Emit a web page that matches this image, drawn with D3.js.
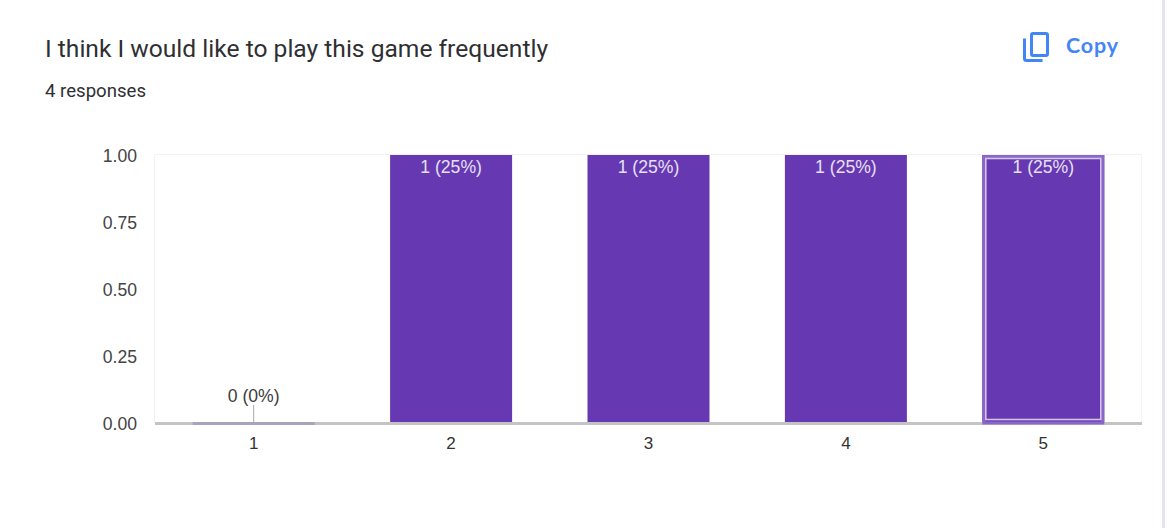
<!DOCTYPE html>
<html><head><meta charset="utf-8">
<script src="https://cdn.jsdelivr.net/npm/d3@7"></script>
<style>html,body{margin:0;padding:0;background:#fff;overflow:hidden}svg{display:block}</style>
</head><body><div id="c"></div>
<script>
const title = "I think I would like to play this game frequently";
const subtitle = "4 responses";
const categories = ["1","2","3","4","5"];
const counts = [0,1,1,1,1];
const labels = ["0 (0%)","1 (25%)","1 (25%)","1 (25%)","1 (25%)"];
const yTicks = [0,0.25,0.5,0.75,1];
const copyLabel = "Copy";

const W=1173,H=531;
const svg=d3.select("#c").append("svg").attr("width",W).attr("height",H).style("font-family","'Liberation Sans', Arial, sans-serif");
svg.append("rect").attr("width",W).attr("height",H).attr("fill","#fff");
svg.append("rect").attr("x",1162).attr("y",0).attr("width",3).attr("height",H-3).attr("fill","#e6e3f0");

svg.append("text").attr("x",45).attr("y",57).attr("font-family","Roboto, sans-serif").attr("font-size",24.6).attr("fill","#2f2f33").text(title);
svg.append("text").attr("x",45).attr("y",97).attr("font-family","Roboto, sans-serif").attr("font-size",18.6).attr("fill","#2f2f33").text(subtitle);

const x=d3.scaleBand().domain(categories).range([155,1142]).paddingInner(0.382).paddingOuter(0.191);
const y=d3.scaleLinear().domain([0,1]).range([423,155]);
const g=svg.append("g");

// plot frame
g.append("line").attr("x1",155).attr("x2",1142).attr("y1",y(1)-0.5).attr("y2",y(1)-0.5).attr("stroke","#f1f1f1");
g.append("line").attr("x1",154.5).attr("x2",154.5).attr("y1",155).attr("y2",423).attr("stroke","#f1f1f1");
g.append("line").attr("x1",1141.5).attr("x2",1141.5).attr("y1",155).attr("y2",423).attr("stroke","#f4f4f4");

// bars
g.selectAll(".bar").data(categories).join("rect").attr("class","bar")
 .attr("x",d=>x(d)).attr("width",x.bandwidth())
 .attr("y",(d,i)=>y(counts[i])).attr("height",(d,i)=>y(0)-y(counts[i]))
 .attr("fill","#6639b3");

// baseline
g.append("line").attr("x1",155).attr("x2",1142).attr("y1",423.5).attr("y2",423.5).attr("stroke","#c4c4c4").attr("stroke-width",3);
// zero bar
g.append("rect").attr("x",x("1")).attr("width",x.bandwidth()).attr("y",422).attr("height",3).attr("fill","#a9a3bf");
// stem for the zero label
g.append("line").attr("x1",x("1")+x.bandwidth()/2).attr("x2",x("1")+x.bandwidth()/2).attr("y1",405).attr("y2",423).attr("stroke","#a8a8a8");

// highlight on bar 5
const hx=x("5");
g.append("rect").attr("x",hx+1.5).attr("y",y(1)+1.5).attr("width",x.bandwidth()-3).attr("height",y(0)-y(1)-1.5)
 .attr("fill","none").attr("stroke","#8a66c9").attr("stroke-width",3);
g.append("rect").attr("x",hx+3.5).attr("y",y(1)+3.5).attr("width",x.bandwidth()-7).attr("height",y(0)-y(1)-7)
 .attr("fill","none").attr("stroke","#d3c4eb").attr("stroke-width",1.6);

// data labels
g.selectAll(".lab").data(categories).join("text").attr("class","lab")
 .attr("x",d=>x(d)+x.bandwidth()/2).attr("text-anchor","middle")
 .attr("y",(d,i)=>counts[i]===0?402:y(counts[i])+18)
 .attr("font-size",17.6).attr("fill",(d,i)=>counts[i]===0?"#3c3c3c":"#e6e0f2")
 .text((d,i)=>labels[i]);

// axis labels
g.selectAll(".yl").data(yTicks).join("text").attr("class","yl")
 .attr("x",137).attr("y",d=>y(d)+7).attr("text-anchor","end").attr("font-size",17.6).attr("fill","#444")
 .text(d=>d3.format(".2f")(d));
g.selectAll(".xl").data(categories).join("text").attr("class","xl")
 .attr("x",d=>x(d)+x.bandwidth()/2).attr("y",449).attr("text-anchor","middle").attr("font-size",17).attr("fill","#333").text(d=>d);

// copy button
const blue="#4285f4";
const ic=svg.append("g").attr("fill","none").attr("stroke",blue).attr("stroke-width",3);
ic.append("rect").attr("x",1031.5).attr("y",33.5).attr("width",16).attr("height",22).attr("rx",1.5);
ic.append("path").attr("d","M1024.5 38.5 V58.5 Q1024.5 60.5 1026.5 60.5 H1042.5");
svg.append("text").attr("x",1066).attr("y",53).attr("font-family","Lato, 'Open Sans', sans-serif").attr("font-weight",700).attr("font-size",21.5).attr("letter-spacing",0.8).attr("fill",blue).text(copyLabel);
</script></body></html>
